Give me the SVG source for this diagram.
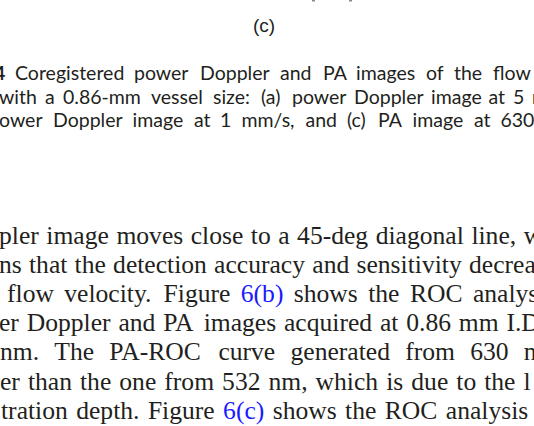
<svg xmlns="http://www.w3.org/2000/svg" width="534" height="426" viewBox="0 0 534 426">
<style>
.cap{font-family:Lato,"Open Sans","Liberation Sans",sans-serif;font-size:19.5px;fill:#231f20}
.lbl{font-family:"Liberation Sans",Arial,sans-serif;font-size:19px;fill:#231f20}
.body{font-family:"Liberation Serif","Times New Roman",serif;font-size:25.6px;fill:#231f20}
.lnk{fill:#1a1aff}
.mark{fill:#8a8a8a}
</style>
<rect width="534" height="426" fill="#ffffff"/>
<rect class="mark" x="312" y="0" width="3" height="1.5"/>
<rect class="mark" x="349" y="0" width="3" height="1.5"/>
<text class="lbl" x="264" y="31.5" text-anchor="middle">(c)</text>
<g id="caption">
<text class="cap" y="80"><tspan x="-6" font-weight="bold">4</tspan><tspan x="15">Coregistered</tspan><tspan x="134">power</tspan><tspan x="200">Doppler</tspan><tspan x="280">and</tspan><tspan x="323">PA</tspan><tspan x="356">images</tspan><tspan x="426">of</tspan><tspan x="454">the</tspan><tspan x="493">flow</tspan></text>
<text class="cap" y="103.5"><tspan x="-1">with</tspan><tspan x="45">a</tspan><tspan x="63">0.86-mm</tspan><tspan x="151">vessel</tspan><tspan x="213">size:</tspan><tspan x="261">(a)</tspan><tspan x="292">power</tspan><tspan x="354">Doppler</tspan><tspan x="431">image</tspan><tspan x="488.5">at</tspan><tspan x="513">5</tspan><tspan x="532">mm/s</tspan></text>
<text class="cap" y="127"><tspan x="-1">ower</tspan><tspan x="53">Doppler</tspan><tspan x="132.5">image</tspan><tspan x="194">at</tspan><tspan x="220">1</tspan><tspan x="241.5">mm/s,</tspan><tspan x="305.5">and</tspan><tspan x="347">(c)</tspan><tspan x="378">PA</tspan><tspan x="412.5">image</tspan><tspan x="474">at</tspan><tspan x="500.5">630</tspan></text>
</g>
<g id="body">
<text class="body" y="244"><tspan x="-1">pler</tspan><tspan x="46.3">image</tspan><tspan x="116.4">moves</tspan><tspan x="190.7">close</tspan><tspan x="250.8">to</tspan><tspan x="278.2">a</tspan><tspan x="297.1">45-deg</tspan><tspan x="375.7">diagonal</tspan><tspan x="471.4">line,</tspan><tspan x="523.7">w</tspan></text>
<text class="body" y="273"><tspan x="-1">ns</tspan><tspan x="29">that</tspan><tspan x="74.6">the</tspan><tspan x="113.1">detection</tspan><tspan x="214.1">accuracy</tspan><tspan x="312.3">and</tspan><tspan x="356.5">sensitivity</tspan><tspan x="469">decrea</tspan></text>
<text class="body" y="302"><tspan x="7">flow</tspan><tspan x="64.3">velocity.</tspan><tspan x="163.6">Figure</tspan><tspan x="240.8" class="lnk">6(b)</tspan><tspan x="293.8">shows</tspan><tspan x="368.2">the</tspan><tspan x="409.9">ROC</tspan><tspan x="472.9">analys</tspan></text>
<text class="body" y="331"><tspan x="-1">er</tspan><tspan x="26.7">Doppler</tspan><tspan x="118.4">and</tspan><tspan x="163.2">PA</tspan><tspan x="203.7">images</tspan><tspan x="284">acquired</tspan><tspan x="379.9">at</tspan><tspan x="406.2">0.86</tspan><tspan x="458.8">mm</tspan><tspan x="506.4">I.D</tspan></text>
<text class="body" y="360"><tspan x="0">nm.</tspan><tspan x="54.3">The</tspan><tspan x="109.3">PA-ROC</tspan><tspan x="218.4">curve</tspan><tspan x="290.5">generated</tspan><tspan x="405.2">from</tspan><tspan x="470.2">630</tspan><tspan x="523.8">n</tspan></text>
<text class="body" y="389.5"><tspan x="0">er</tspan><tspan x="27.9">than</tspan><tspan x="80">the</tspan><tspan x="119.3">one</tspan><tspan x="164.3">from</tspan><tspan x="222.1">532</tspan><tspan x="268.5">nm,</tspan><tspan x="315.6">which</tspan><tspan x="386.2">is</tspan><tspan x="411.3">due</tspan><tspan x="456.3">to</tspan><tspan x="484.2">the</tspan><tspan x="523.5">l</tspan></text>
<text class="body" y="418.6"><tspan x="1">tration</tspan><tspan x="76.2">depth.</tspan><tspan x="147.9">Figure</tspan><tspan x="223.1" class="lnk">6(c)</tspan><tspan x="272.7">shows</tspan><tspan x="345.1">the</tspan><tspan x="384.8">ROC</tspan><tspan x="445.8">analysis</tspan></text>
</g>
</svg>
